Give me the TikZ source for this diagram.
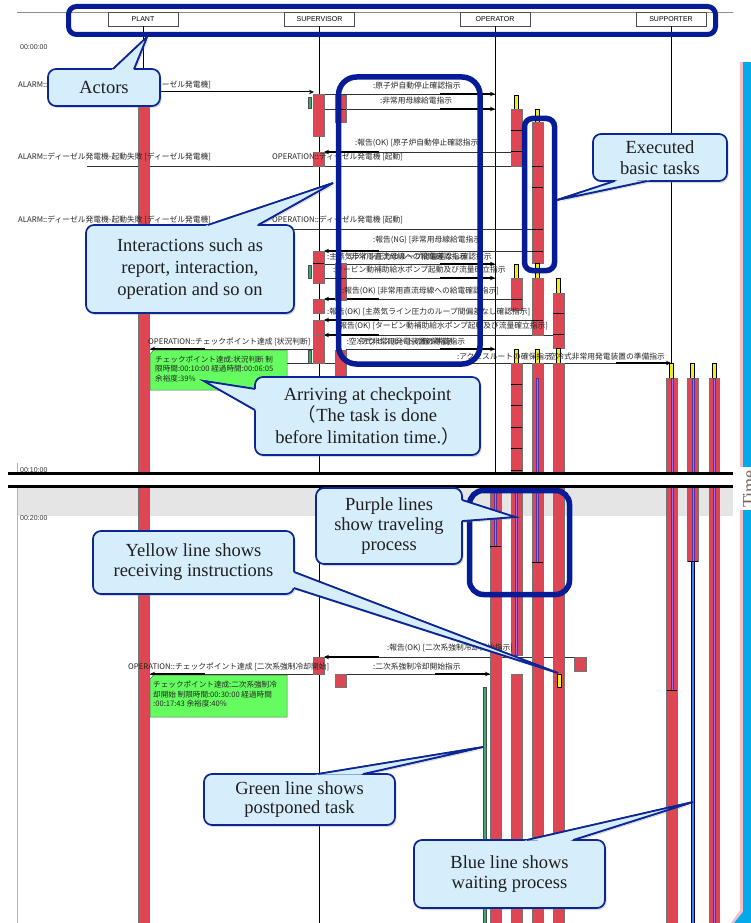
\documentclass[tikz,border=0pt]{standalone}
\usepackage{fontspec}
\setmainfont{Liberation Serif}
\newfontfamily\jpf{Noto Sans CJK JP}
\newfontfamily\sansf{Liberation Sans}
\usetikzlibrary{arrows.meta,shadows,calc}

\definecolor{barred}{RGB}{221,70,82}
\definecolor{ybarc}{RGB}{243,236,24}
\definecolor{purpc}{RGB}{160,110,250}
\definecolor{purpd}{RGB}{80,50,160}
\definecolor{notegreen}{RGB}{100,252,95}
\definecolor{cfill}{RGB}{214,238,252}
\definecolor{cborder}{RGB}{12,38,150}
\definecolor{hlc}{RGB}{6,28,150}
\definecolor{timecyan}{RGB}{0,170,235}
\definecolor{timepink}{RGB}{245,190,200}
\definecolor{bandgray}{RGB}{229,229,229}
\definecolor{timetext}{RGB}{120,100,90}
\definecolor{gbarc}{RGB}{60,170,110}
\definecolor{bluel}{RGB}{60,130,240}

\newcommand\RB[4]{\path[rbar] (#1,#2) rectangle (#3,#4);}
\newcommand\YB[4]{\path[ybar] (#1,#2) rectangle (#3,#4);}
\newcommand\DV[3]{\draw[dvl] (#1,#3) -- (#2,#3);}
\newcommand\PL[3]{\path[purp] (#1-1,#2) rectangle (#1+1,#3);}
\newcommand\MR[3]{\draw[msg] (#1,#3) -- (#2,#3); \draw[msgk] (#2-55,#3) -- (#2,#3);}
\newcommand\ML[3]{\draw[msg] (#1,#3) -- (#2,#3); \draw[msgk] (#2+55,#3) -- (#2,#3);}
\newcommand\mycallout[8]{%
  \path[cptr] #5 -- #4 -- #6 -- cycle;
  \path[cbox] #2 rectangle #3;
  \path[fill=cfill] ($#5!-3pt!#4$) -- #4 -- ($#6!-3pt!#4$) -- cycle;
  \draw[cborder, line width=1.7pt, line join=miter] #5 -- #4 -- #6;
  \node[ctext, font=\fontsize{18.5}{#7}\selectfont] (#1) at ($#2!0.5!#3$) {#8};
}

\begin{document}
\begin{tikzpicture}[x=1pt,y=-1pt,
  rbar/.style={fill=barred, draw=black!55, line width=0.5pt},
  ybar/.style={fill=ybarc, draw=black, line width=0.45pt},
  gbar/.style={fill=gbarc, draw=black!70, line width=0.4pt},
  dvl/.style={draw=black, line width=0.8pt},
  purp/.style={fill=purpc, draw=purpd, line width=0.35pt},
  msg/.style={draw=black!80, line width=0.5pt},
  msgk/.style={draw=black, line width=1.2pt, -{Stealth[length=5pt,width=4.5pt]}},
  jt/.style={font=\jpf\fontsize{7.75}{9}\selectfont, inner sep=0pt, anchor=west, text=black!85},
  actor/.style={draw=black!70, line width=0.6pt, fill=white, minimum width=70pt, minimum height=14pt, inner sep=0pt, font=\sansf\fontsize{7}{8}\selectfont},
  life/.style={draw=black, line width=0.9pt},
  tlabel/.style={font=\sansf\fontsize{7}{8}\selectfont, inner sep=0pt, anchor=west, text=black!80},
  note/.style={fill=notegreen, draw=black!60, line width=0.5pt},
  notetext/.style={font=\jpf\fontsize{7.6}{9.6}\selectfont, align=left, inner sep=0pt, anchor=north west, text=black!85},
  hl/.style={draw=hlc, line width=5.5pt, rounded corners=18pt},
  cshadow/.style={drop shadow={shadow xshift=1.5pt, shadow yshift=-2pt, opacity=0.3}},
  cbox/.style={fill=cfill, draw=cborder, line width=1.7pt, rounded corners=8pt, cshadow},
  cptr/.style={fill=cfill, draw=cborder, line width=1.7pt, line join=miter, cshadow},
  ctext/.style={align=center, text=black!88, inner sep=0pt},
]
\useasboundingbox (0,0) rectangle (751,923);
\fill[white] (0,0) rectangle (751,923);

% background band and guide lines
\fill[bandgray] (18,487) rectangle (733,516);
\draw[black!45, line width=0.8pt] (17,12) -- (733,12);
\draw[black!30, line width=1pt] (17,463) -- (17,923);

% actors and lifelines
\node[actor] (plant) at (143,19) {PLANT};
\node[actor] (sup) at (319.5,19) {SUPERVISOR};
\node[actor] (op) at (495,19) {OPERATOR};
\node[actor] (supp) at (671,19) {SUPPORTER};
\coordinate (plantend) at (143,106);
\coordinate (supend) at (319.5,923);
\coordinate (opend) at (495,923);
\coordinate (suppend) at (671,378);
\draw[life] (plant.south) -- (plantend);
\draw[life] (sup.south) -- (supend);
\draw[life] (op.south) -- (opend);
\draw[life] (supp.south) -- (suppend);

% time labels
\node[tlabel] (t0) at (20,47) {00:00:00};
\node[tlabel] (t10) at (20,470) {00:10:00};
\node[tlabel] (t20) at (20,518) {00:20:00};

% message lines
\draw[black, line width=1pt, -{Stealth[length=5pt,width=4.5pt]}] (149,92) -- (314,92);
\draw[msg] (87,166) -- (511,166);
\draw[msg] (87,229) -- (532,229);
\MR{325}{495}{94}
\MR{325}{495}{109}
\ML{511}{324}{152}
\ML{532}{324}{251}
\MR{324}{495}{264}
\MR{324}{495}{278}
\ML{511}{324}{299}
\ML{532}{324}{320}
\ML{553}{324}{335}
\MR{346}{495}{349}
\ML{313}{150}{349}
\MR{287}{671}{363}
\ML{586}{324}{657}
\ML{313}{150}{674}
\MR{346}{490}{674}
\draw[black, line width=0.5pt] (139,163.5) -- (143,166) -- (139,168.5) (148,163.5) -- (144,166) -- (148,168.5);

% plant bar
\RB{138}{106}{149}{473}
\RB{138}{487}{149}{923}

% supervisor bars
\RB{313}{94}{324}{136}
\RB{313}{152}{324}{166}
\RB{313}{251}{324}{283} \DV{313}{324}{263}
\RB{313}{299}{324}{313}
\RB{313}{320}{324}{335}
\RB{313}{335}{324}{363}
\RB{313}{657}{324}{674}
\path[gbar] (308,97) rectangle (311,108);
\path[gbar] (308,265) rectangle (311,278);
\path[gbar] (308,350) rectangle (311,363);
\RB{335}{95}{346}{122} \DV{335}{346}{109}
\RB{335}{263}{346}{300} \DV{335}{346}{278}
\RB{335}{350}{346}{376}
\RB{335}{674}{346}{687}

% operator columns, upper part
\YB{514}{95}{518}{109}
\RB{511}{109}{522}{166} \DV{511}{522}{130} \DV{511}{522}{151}
\YB{514}{264}{518}{278}
\RB{511}{278}{522}{310} \DV{511}{522}{299}
\YB{514}{349}{518}{363}
\RB{511}{363}{522}{473}
\DV{511}{522}{384} \DV{511}{522}{405} \DV{511}{522}{427} \DV{511}{522}{448} \DV{511}{522}{470}
\YB{535}{109}{539}{122}
\RB{532}{122}{543}{263}
\DV{532}{543}{166} \DV{532}{543}{187} \DV{532}{543}{229} \DV{532}{543}{251}
\YB{535}{263}{539}{278}
\RB{532}{278}{543}{335} \DV{532}{543}{320}
\YB{535}{349}{539}{363}
\RB{532}{363}{543}{473} \PL{537.5}{378}{473}
\YB{556}{278}{560}{293}
\RB{553}{293}{564}{348} \DV{553}{564}{313} \DV{553}{564}{334}
\YB{556}{348}{560}{363}
\RB{553}{363}{564}{473}

% supporter columns, upper part
\YB{669.5}{363}{673.5}{378} \RB{666.5}{378}{677}{473} \PL{671.8}{378}{473}
\YB{690.5}{363}{694.5}{378} \RB{687.5}{378}{698}{473} \PL{692.7}{378}{473}
\YB{712}{363}{716}{378} \RB{709}{378}{719.5}{473} \PL{714.2}{378}{473}

% lower part
\RB{490}{487}{501}{923} \PL{495.5}{487}{546} \DV{490}{501}{546}
\RB{511}{487}{522}{655} \PL{516.5}{487}{655}
\RB{511}{674}{522}{923}
\RB{532}{487}{543}{923} \PL{537.5}{487}{562} \DV{532}{543}{562}
\RB{553}{487}{564}{923} \YB{557}{674}{561}{687}
\RB{574}{657}{586}{671}
\RB{666.5}{487}{677}{923} \PL{671.8}{487}{690} \DV{666.5}{677}{690}
\RB{687.5}{487}{698}{561} \PL{692.7}{487}{561} \DV{687.5}{698}{561}
\path[fill=bluel, draw=black!70!blue, line width=0.4pt] (691.2,561) rectangle (694.2,923);
\RB{709}{487}{719.5}{923} \PL{714.2}{487}{923}
\path[gbar] (483.5,687) rectangle (486.5,923);

% message texts
\node[jt] (la1) at (18,85) {ALARM::ディーゼル発電機-起動失敗 [ディーゼル発電機]};
\node[jt] (la2) at (18,157) {ALARM::ディーゼル発電機-起動失敗 [ディーゼル発電機]};
\node[jt] (lo2) at (272,157) {OPERATION::ディーゼル発電機 [起動]};
\node[jt] (la3) at (18,220) {ALARM::ディーゼル発電機-起動失敗 [ディーゼル発電機]};
\node[jt] (lo3) at (272,220) {OPERATION::ディーゼル発電機 [起動]};
\node[jt] (ta1) at (373,86) {:原子炉自動停止確認指示};
\node[jt] (ta2) at (380,101) {:非常用母線給電指示};
\node[jt] (tr1) at (355,143) {:報告(OK) [原子炉自動停止確認指示]};
\node[jt] (tr2) at (373,240) {:報告(NG) [非常用母線給電指示]};
\node[jt] (to1a) at (327,257) {:主蒸気ライン圧力のループ間偏差なし確認指示};
\node[jt, anchor=center] (to1b) at (408,257) {:非常用直流母線への給電確認指示};
\node[jt] (tt) at (333,270) {:タービン動補助給水ポンプ起動及び流量確立指示};
\node[jt] (tr3) at (342,291) {:報告(OK) [非常用直流母線への給電確認指示]};
\node[jt] (tr4) at (327,312) {:報告(OK) [主蒸気ライン圧力のループ間偏差なし確認指示]};
\node[jt] (tr5) at (337,326) {:報告(OK) [タービン動補助給水ポンプ起動及び流量確立指示]};
\node[jt, anchor=center] (to2a) at (406,342) {:空冷式非常用発電装置の準備指示};
\node[jt, anchor=center] (to2b) at (406,342) {:アクセスルートの確保指示};
\node[jt] (tcp1) at (148,342) {OPERATION::チェックポイント達成 [状況判断]};
\node[jt] (to3a) at (457,357) {:アクセスルートの確保指示};
\node[jt, anchor=east] (to3b) at (665,357) {:空冷式非常用発電装置の準備指示};
\node[jt] (tr6) at (387,648) {:報告(OK) [二次系強制冷却開始指示]};
\node[jt] (tcp2) at (128,667) {OPERATION::チェックポイント達成 [二次系強制冷却開始]};
\node[jt] (to4) at (373,667) {:二次系強制冷却開始指示};

% notes
\path[note] (150,354) -- (154,350) -- (287,350) -- (287,390) -- (150,390) -- cycle;
\node[notetext] (n1) at (155,355.5) {チェックポイント達成:状況判断 制\\限時間:00:10:00 経過時間:00:06:05\\余裕度:39\%};
\path[note] (150,679) -- (154,675) -- (287,675) -- (287,717) -- (150,717) -- cycle;
\node[notetext] (n2) at (153,681) {チェックポイント達成:二次系強制冷\\却開始 制限時間:00:30:00 経過時間\\:00:17:43 余裕度:40\%};

% break
\fill[white] (0,474.5) rectangle (736,485.5);
\draw[black, line width=2.5pt] (8,473.5) -- (733,473.5);
\draw[black, line width=2.5pt] (8,486.5) -- (733,486.5);

% time arrow
\fill[timepink] (740,62) rectangle (743,923);
\fill[timecyan] (742.5,62) rectangle (751,923);
\fill[timepink] (741,909) -- (731,923) -- (734,923) -- (743,912) -- cycle;
\fill[timecyan] (743,912) -- (734,923) -- (751,923) -- (751,909) -- cycle;
\fill[white] (737,467) rectangle (751,510);
\node[rotate=90, font=\fontsize{18}{20}\selectfont, text=timetext, inner sep=0pt] (timelbl) at (749,489) {Time};

% highlights
\draw[hl, rounded corners=8pt, line width=5pt] (68.5,6.5) rectangle (715.5,34.5);
\draw[hl] (338.5,77) rectangle (480,364);
\draw[hl, rounded corners=8pt] (524.5,118.5) rectangle (554.5,270.5);
\draw[hl, rounded corners=14pt] (469.5,490.5) rectangle (569.5,594.5);

% callouts
\mycallout{cActors}{(48,69)}{(160,106)}{(147,37)}{(113,69)}{(134,69)}{22}{Actors}
\mycallout{cInter}{(86,225)}{(294,313)}{(333,183)}{(208,225)}{(258,225)}{22}{Interactions such as\\report, interaction,\\operation and so on}
\mycallout{cExec}{(593,134)}{(727,181)}{(557,200)}{(647,181)}{(615,181)}{21}{Executed\\basic tasks}
\mycallout{cArr}{(255,377)}{(480,455)}{(204,381)}{(255,389)}{(255,410)}{21.5}{Arriving at checkpoint\\{\jpf （}The task is done\\before limitation time.{\jpf ）}}
\mycallout{cPurp}{(316,488)}{(462,564)}{(515,517)}{(462,500)}{(462,521)}{20}{Purple lines\\show traveling\\process}
\mycallout{cYel}{(93,531)}{(294,594)}{(558,673)}{(294,572)}{(294,588)}{20}{Yellow line shows\\receiving instructions}
\mycallout{cGreen}{(204,774)}{(395,825)}{(483,747)}{(318,774)}{(363,774)}{19.5}{Green line shows\\postponed task}
\mycallout{cBlue}{(414,840)}{(605,908)}{(693,802)}{(527,840)}{(573,840)}{19.5}{Blue line shows\\waiting process}
\end{tikzpicture}
\end{document}
